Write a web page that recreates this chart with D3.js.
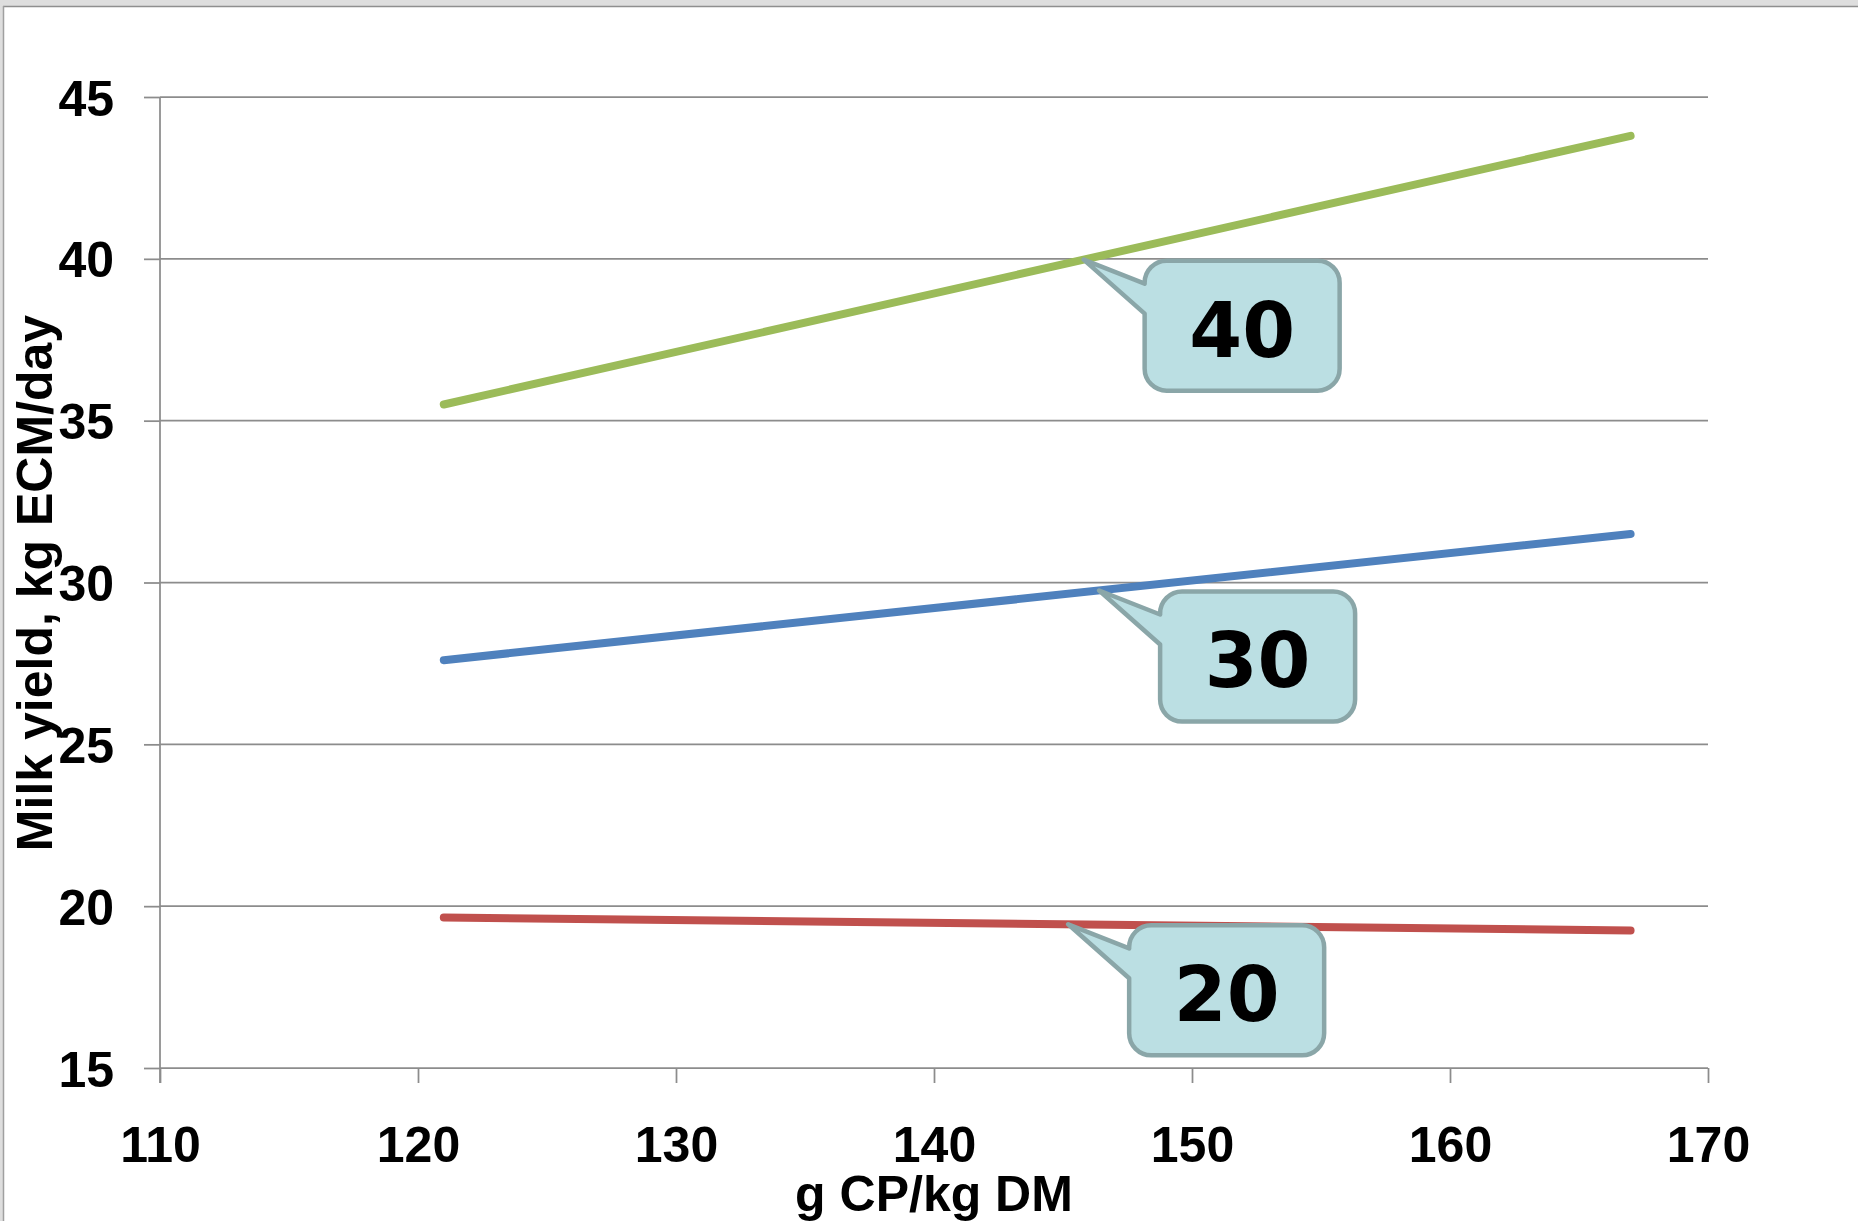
<!DOCTYPE html>
<html>
<head>
<meta charset="utf-8">
<script src="https://cdn.jsdelivr.net/npm/d3@7"></script>
<style>
  html, body { margin: 0; padding: 0; background: #ffffff; }
  svg { display: block; }
  .tick text { font-family: "Liberation Sans", Arial, sans-serif; font-weight: bold; font-size: 50px; fill: #000; }
</style>
</head>
<body>
<script>
// Crude protein level on the x axis, milk yield per series
const crudeProtein = [121, 167];
const seriesNames = ["40", "30", "20"];
const yield40 = [35.5, 43.8];
const yield30 = [27.6, 31.5];
const yield20 = [19.65, 19.25];
const seriesColors = ["#9BBB59", "#4F81BD", "#C0504D"];
// x position (g CP/kg DM) where each callout points at its line
const calloutAt = [145.8, 146.4, 145.2];

const xTicks = [110, 120, 130, 140, 150, 160, 170];
const yTicks = [15, 20, 25, 30, 35, 40, 45];

const W = 1858, H = 1221;
const plot = { left: 160, right: 1708, top: 97, bottom: 1068 };

const svg = d3.select("body").append("svg").attr("width", W).attr("height", H);

// window frame
svg.append("rect").attr("x", 0).attr("y", 0).attr("width", W).attr("height", 6).attr("fill", "#dedede");
svg.append("rect").attr("x", 0).attr("y", 0).attr("width", 3).attr("height", H).attr("fill", "#dedede");
svg.append("line").attr("x1", 3).attr("x2", W).attr("y1", 6.5).attr("y2", 6.5).attr("stroke", "#8f8f8f").attr("stroke-width", 1.5);
svg.append("line").attr("x1", 3.5).attr("x2", 3.5).attr("y1", 6).attr("y2", H).attr("stroke", "#a0a0a0").attr("stroke-width", 1.5);

const x = d3.scaleLinear().domain([110, 170]).range([plot.left, plot.right]);
const y = d3.scaleLinear().domain([15, 45]).range([plot.bottom, plot.top]);

const axisColor = "#8c8c8c";

// horizontal gridlines
svg.append("g").selectAll("line").data(yTicks).join("line")
  .attr("x1", plot.left).attr("x2", plot.right)
  .attr("y1", d => y(d)).attr("y2", d => y(d))
  .attr("stroke", axisColor).attr("stroke-width", 1.75);

// y axis
const gy = svg.append("g").attr("transform", `translate(${plot.left},0)`)
  .call(d3.axisLeft(y).tickValues(yTicks).tickSize(16).tickPadding(30).tickFormat(d3.format("d")));
gy.select(".domain").remove();
gy.selectAll(".tick line").attr("stroke", axisColor).attr("stroke-width", 1.75);
gy.selectAll(".tick text").attr("dy", "0.36em");

// x axis
const gx = svg.append("g").attr("transform", `translate(0,${plot.bottom})`)
  .call(d3.axisBottom(x).tickValues(xTicks).tickSize(15).tickPadding(43).tickFormat(d3.format("d")));
gx.select(".domain").remove();
gx.selectAll(".tick line").attr("stroke", axisColor).attr("stroke-width", 1.75);

// vertical axis line
svg.append("line").attr("x1", plot.left).attr("x2", plot.left)
  .attr("y1", plot.top).attr("y2", plot.bottom + 15)
  .attr("stroke", axisColor).attr("stroke-width", 1.75);

// axis titles
svg.append("text")
  .attr("transform", "translate(52,583) rotate(-90)")
  .attr("text-anchor", "middle")
  .style("font-family", '"Liberation Sans", Arial, sans-serif')
  .style("font-weight", "bold").style("font-size", "50px")
  .text("Milk yield, kg ECM/day");

svg.append("text")
  .attr("x", (plot.left + plot.right) / 2).attr("y", 1211)
  .attr("text-anchor", "middle")
  .style("font-family", '"Liberation Sans", Arial, sans-serif')
  .style("font-weight", "bold").style("font-size", "50px")
  .text("g CP/kg DM");

// series lines
const series = [yield40, yield30, yield20].map((vals, i) => ({
  name: seriesNames[i],
  color: seriesColors[i],
  points: crudeProtein.map((cp, j) => [cp, vals[j]])
}));

const line = d3.line().x(d => x(d[0])).y(d => y(d[1]));
svg.append("g").selectAll("path").data(series).join("path")
  .attr("d", d => line(d.points))
  .attr("fill", "none")
  .attr("stroke", d => d.color)
  .attr("stroke-width", 8)
  .attr("stroke-linecap", "round");

// callouts
const interp = (pts, cx) => {
  const [a, b] = pts;
  return a[1] + (cx - a[0]) * (b[1] - a[1]) / (b[0] - a[0]);
};

const boxW = 195, boxH = 130, r = 22;
series.forEach((s, i) => {
  const tx = x(calloutAt[i]);
  const ty = y(interp(s.points, calloutAt[i]));
  const L = tx + 61, T = ty + 1, R = L + boxW, B = T + boxH;
  const p = d3.path();
  p.moveTo(L + r, T);
  p.lineTo(R - r, T);
  p.arcTo(R, T, R, T + r, r);
  p.lineTo(R, B - r);
  p.arcTo(R, B, R - r, B, r);
  p.lineTo(L + r, B);
  p.arcTo(L, B, L, B - r, r);
  p.lineTo(L, T + 53);
  p.lineTo(tx, ty);
  p.lineTo(L, T + 23);
  p.lineTo(L, T + r);
  p.arcTo(L, T, L + r, T, r);
  p.closePath();
  svg.append("path").attr("d", p.toString())
    .attr("fill", "#bbdfe3").attr("stroke", "#8aa6a8").attr("stroke-width", 4.5)
    .attr("stroke-linejoin", "round");
  svg.append("text")
    .attr("x", L + boxW / 2).attr("y", T + 96)
    .attr("text-anchor", "middle")
    .style("font-family", '"DejaVu Sans", Verdana, sans-serif')
    .style("font-weight", "bold").style("font-size", "76px")
    .text(s.name);
});
</script>
</body>
</html>
